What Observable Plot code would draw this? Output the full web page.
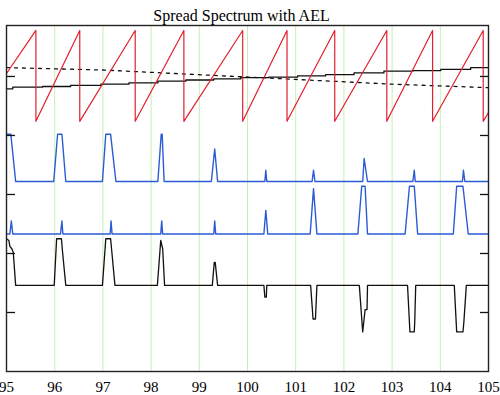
<!DOCTYPE html>
<html>
<head>
<meta charset="utf-8">
<script src="https://cdn.jsdelivr.net/npm/d3@7"></script>
<script src="https://cdn.jsdelivr.net/npm/@observablehq/plot@0.6"></script>
<style>
  html, body { margin: 0; padding: 0; background: #fff; }
</style>
</head>
<body>
<div id="chart"></div>
<script>
const titleText = "Spread Spectrum with AEL";
const xTicks = [95, 96, 97, 98, 99, 100, 101, 102, 103, 104, 105];
const xGrid = [96, 97, 98, 99, 100, 101, 102, 103, 104];
const yTicks = [1, 2, 3, 4, 5];

// Red sawtooth (spread-spectrum ramp)
const sawPeaksX = [95.61, 96.52, 97.67, 98.68, 99.90, 100.82, 101.81, 102.89, 103.84, 104.89];
const sawTop = 5.78;
const sawBottom = 4.24;
const sawStartY = 5.05;
const sawEndY = 4.39;

// Solid black staircase
const stairX = [95, 95.13, 95.75, 96.33, 96.96, 97.54, 98.14, 98.72, 99.30, 99.86, 100.44, 101.04, 101.62, 102.21, 102.83, 103.43, 104.01, 104.63, 105];
const stairY = [4.79, 4.82, 4.83, 4.85, 4.87, 4.89, 4.92, 4.94, 4.96, 4.98, 4.99, 5.01, 5.03, 5.06, 5.09, 5.10, 5.12, 5.15, 5.15];

// Dotted black line
const dotX = [95, 97, 99, 101, 103, 105];
const dotY = [5.15, 5.11, 5.03, 4.95, 4.87, 4.81];

// Upper blue pulses
const blueAX = [95, 95.09, 95.19, 95.98, 96.06, 96.15, 96.23, 96.99, 97.06, 97.16, 97.27, 98.14, 98.21, 98.23, 98.27, 99.25, 99.32, 99.38, 100.36, 100.38, 100.40, 101.34, 101.37, 101.40, 102.39, 102.42, 102.49, 103.43, 103.46, 103.48, 104.46, 104.48, 104.51, 105];
const blueAY = [4.02, 4.02, 3.22, 3.22, 4.02, 4.02, 3.22, 3.22, 4.02, 4.02, 3.22, 3.22, 4.02, 4.02, 3.22, 3.22, 3.77, 3.22, 3.22, 3.41, 3.22, 3.22, 3.41, 3.22, 3.22, 3.61, 3.22, 3.22, 3.41, 3.22, 3.22, 3.41, 3.22, 3.22];

// Lower blue pulses
const blueBX = [95, 95.07, 95.10, 95.13, 96.12, 96.15, 96.17, 97.15, 97.17, 97.19, 98.20, 98.22, 98.24, 99.30, 99.32, 99.34, 100.34, 100.38, 100.42, 101.30, 101.37, 101.44, 102.29, 102.37, 102.44, 102.49, 103.27, 103.36, 103.46, 103.53, 104.27, 104.34, 104.47, 104.58, 105];
const blueBY = [2.33, 2.33, 2.55, 2.33, 2.33, 2.55, 2.33, 2.33, 2.55, 2.33, 2.33, 2.55, 2.33, 2.33, 2.55, 2.33, 2.33, 2.73, 2.33, 2.33, 3.10, 2.33, 2.33, 3.14, 3.14, 2.33, 2.33, 3.14, 3.14, 2.33, 2.33, 3.14, 3.14, 2.33, 2.33];

// Lower black difference signal
const diffX = [95, 95.05, 95.07, 95.11, 95.14, 95.19, 95.99, 96.04, 96.14, 96.16, 96.23, 96.99, 97.06, 97.16, 97.25, 98.13, 98.20, 98.24, 98.28, 99.27, 99.31, 99.33, 99.38, 100.34, 100.36, 100.39, 100.40, 101.31, 101.36, 101.41, 101.44, 102.32, 102.39, 102.44, 102.48, 102.49, 103.32, 103.37, 103.46, 103.47, 103.49, 104.29, 104.34, 104.47, 104.49, 104.54, 105];
const diffY = [2.25, 2.22, 2.12, 2.08, 2.02, 1.46, 1.46, 2.25, 2.25, 2.05, 1.46, 1.46, 2.25, 2.25, 1.46, 1.46, 2.22, 2.08, 1.46, 1.46, 1.85, 1.85, 1.46, 1.46, 1.26, 1.26, 1.46, 1.46, 0.89, 0.89, 1.46, 1.46, 0.67, 1.05, 1.05, 1.46, 1.46, 0.67, 0.67, 0.85, 1.46, 1.46, 0.67, 0.67, 0.85, 1.46, 1.46];

const zip = (xs, ys) => xs.map((x, i) => ({x, y: ys[i]}));

const saw = [{x: 95, y: sawStartY}];
for (const p of sawPeaksX) { saw.push({x: p, y: sawTop}); saw.push({x: p, y: sawBottom}); }
saw.push({x: 105, y: sawEndY});

const chart = Plot.plot({
  width: 500,
  height: 395,
  marginLeft: 6,
  marginRight: 12,
  marginTop: 25,
  marginBottom: 24,
  style: {fontFamily: "'Liberation Serif', 'Times New Roman', serif", fontSize: "15px", background: "#fff", color: "#000"},
  x: {domain: [95, 105]},
  y: {domain: [0, 5.864]},
  marks: [
    Plot.ruleX(xGrid, {stroke: "#c9eeb4", strokeWidth: 1}),
    Plot.line(zip(dotX, dotY), {x: "x", y: "y", stroke: "#111", strokeWidth: 1.3, strokeDasharray: "3,5"}),
    Plot.line(zip(stairX, stairY), {x: "x", y: "y", stroke: "#111", strokeWidth: 1.3, curve: "step-after"}),
    Plot.line(saw, {x: "x", y: "y", stroke: "#e0202e", strokeWidth: 1.2}),
    Plot.line(zip(blueAX, blueAY), {x: "x", y: "y", stroke: "#2c5bd6", strokeWidth: 1.4}),
    Plot.line(zip(blueBX, blueBY), {x: "x", y: "y", stroke: "#2c5bd6", strokeWidth: 1.4}),
    Plot.line(zip(diffX, diffY), {x: "x", y: "y", stroke: "#111", strokeWidth: 1.3}),
    Plot.axisY(yTicks, {anchor: "left", tickSize: -9, tickFormat: () => "", label: null, stroke: "#111", strokeWidth: 1.3}),
    Plot.axisY(yTicks, {anchor: "right", tickSize: -9, tickFormat: () => "", label: null, stroke: "#111", strokeWidth: 1.3}),
    Plot.axisX(xTicks, {tickSize: 0, tickPadding: 10, tickFormat: d => String(d), label: null, fontSize: 15}),
    Plot.frame({stroke: "#222", strokeWidth: 1.4}),
    Plot.text([titleText], {frameAnchor: "top", dx: -6, dy: -16, fontSize: 16, fill: "#000"})
  ]
});
document.getElementById("chart").appendChild(chart);
</script>
</body>
</html>
